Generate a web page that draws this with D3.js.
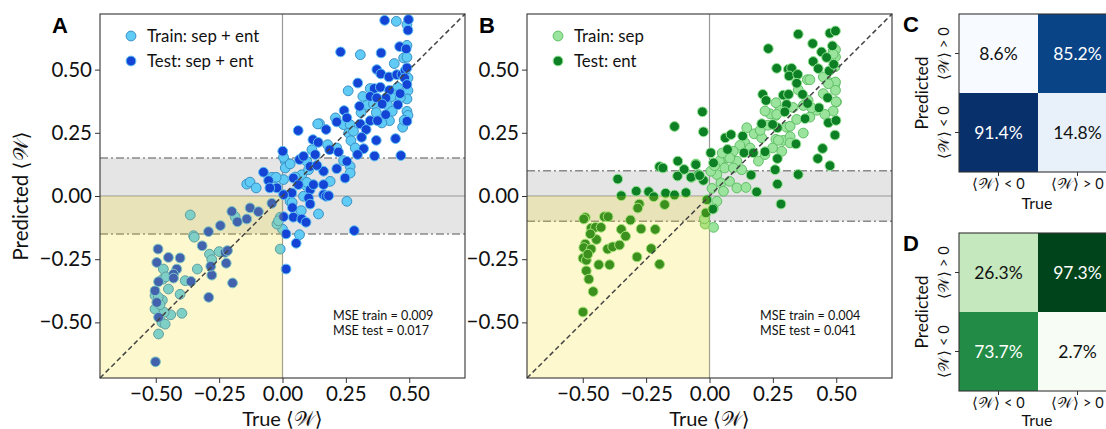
<!DOCTYPE html>
<html>
<head>
<meta charset="utf-8">
<script src="https://cdn.jsdelivr.net/npm/d3@7"></script>
<style>
  body { margin: 0; background: #fff; }
  svg { display: block; font-family: Lato, "DejaVu Sans", sans-serif; }
</style>
</head>
<body>
<svg id="chart" width="1106" height="429"></svg>
<script>
// panel A: trained and tested on sep + ent
const trainA = [
  [0.449,0.691],[0.491,0.678],[0.307,0.559],[0.491,0.596],[0.478,0.546],[0.491,0.549],[0.441,0.524],[0.495,0.467],
  [0.259,0.416],[0.346,0.425],[0.454,0.430],[0.495,0.417],[0.441,0.401],[0.428,0.392],[0.491,0.384],[0.317,0.394],
  [0.333,0.359],[0.359,0.364],[0.414,0.361],[0.491,0.335],[0.495,0.319],[0.474,0.272],[0.209,0.309],[0.241,0.282],
  [0.267,0.282],[0.433,0.335],[0.422,0.298],[0.392,0.289],[0.146,0.286],[0.261,0.249],[0.280,0.256],[0.178,0.203],
  [0.214,0.190],[0.270,0.219],[0.116,0.183],[0.287,0.190],[0.096,0.137],[0.241,0.140],[0.267,0.117],[0.011,0.137],
  [0.011,0.111],[0.076,0.084],[0.103,0.104],[0.004,0.065],[-0.029,0.071],[0.093,0.042],[0.188,0.058],[0.267,0.091],
  [0.083,-0.001],[0.030,-0.021],[0.254,-0.021],[0.074,-0.058],[0.142,-0.071],[0.0,-0.131],[0.067,-0.153],[0.038,-0.026],
  [-0.141,0.047],[-0.128,0.055],[-0.104,0.032],[-0.042,0.074],[-0.025,0.074],[0.004,0.153],[0.030,0.127],[0.139,0.285],
  [0.096,0.054],[0.050,0.075],[0.310,0.330],[0.370,0.330],[0.465,0.390],[0.480,0.300],
  [-0.364,-0.075],[-0.187,-0.082],[-0.022,-0.111],[-0.009,-0.084],[-0.016,-0.098],[-0.351,-0.157],[-0.348,-0.163],
  [-0.288,-0.230],[-0.279,-0.252],[-0.336,-0.289],[-0.384,-0.335],[-0.404,-0.389],[-0.397,-0.464],[-0.441,-0.470],
  [-0.450,-0.368],[-0.470,-0.289],[-0.472,-0.329],[-0.503,-0.394],[-0.474,-0.412],[-0.503,-0.447],[-0.467,-0.460],
  [-0.476,-0.500],[-0.463,-0.507],[-0.489,-0.546],[-0.009,-0.210],[-0.483,-0.430],[-0.490,-0.400],[-0.460,-0.320],
  [-0.250,-0.220]
];
const testA = [
  [0.403,0.695],[0.497,0.698],[0.495,0.656],[0.229,0.570],[0.389,0.566],[0.462,0.591],[0.488,0.582],[0.372,0.500],
  [0.388,0.483],[0.420,0.471],[0.451,0.480],[0.471,0.480],[0.484,0.496],[0.491,0.507],[0.482,0.467],[0.297,0.447],
  [0.362,0.425],[0.386,0.430],[0.422,0.418],[0.491,0.441],[0.464,0.405],[0.408,0.388],[0.346,0.394],[0.372,0.388],
  [0.393,0.364],[0.304,0.355],[0.455,0.361],[0.491,0.296],[0.243,0.338],[0.254,0.309],[0.214,0.293],[0.307,0.285],
  [0.346,0.298],[0.375,0.298],[0.407,0.322],[0.172,0.263],[0.062,0.259],[0.330,0.263],[0.120,0.223],[0.141,0.212],
  [0.312,0.232],[0.370,0.220],[0.446,0.227],[0.186,0.183],[0.221,0.174],[0.320,0.187],[0.296,0.164],[0.363,0.158],
  [0.467,0.160],[0.001,0.177],[0.067,0.144],[0.083,0.157],[0.129,0.164],[0.109,0.117],[0.254,0.137],[0.214,0.108],
  [0.162,0.098],[0.043,0.071],[0.136,0.121],[-0.022,0.032],[0.063,0.045],[0.109,0.025],[0.122,0.045],[0.162,0.045],
  [0.247,0.071],[0.162,0.005],[0.172,-0.001],[0.037,0.012],[0.004,0.005],[0.103,-0.008],
  [0.039,-0.046],[0.043,-0.084],[0.076,-0.091],[0.093,-0.104],[0.014,-0.150],[0.054,-0.187],[0.014,-0.289],
  [0.283,-0.137],[0.182,0.001],[0.109,-0.032],[0.004,-0.082],[-0.075,0.094],[-0.055,0.061],[-0.050,0.032],
  [-0.200,-0.061],[-0.178,-0.102],[-0.141,-0.091],[-0.128,-0.047],[-0.095,-0.062],[-0.042,-0.029],[-0.245,-0.117],
  [-0.292,-0.141],[-0.317,-0.197],[-0.226,-0.223],[-0.217,-0.216],[-0.222,-0.266],[-0.279,-0.313],[-0.283,-0.278],
  [-0.361,-0.338],[-0.197,-0.344],[-0.291,-0.401],[-0.450,-0.243],[-0.404,-0.245],[-0.417,-0.289],[-0.430,-0.309],
  [-0.430,-0.325],[-0.491,-0.210],[-0.496,-0.263],[-0.489,-0.339],[-0.503,-0.375],[-0.496,-0.421],[-0.489,-0.480],
  [-0.501,-0.656]
];

// panel B: trained on sep, tested on ent
const trainB = [
  [0.386,0.460],[0.488,0.577],[0.497,0.579],[0.497,0.550],[0.495,0.511],[0.488,0.561],[0.465,0.455],[0.495,0.442],
  [0.497,0.451],[0.497,0.418],[0.501,0.372],[0.449,0.471],[0.469,0.444],[0.449,0.405],[0.396,0.460],[0.389,0.378],
  [0.370,0.358],[0.423,0.339],[0.396,0.312],[0.499,0.373],[0.488,0.336],[0.455,0.323],[0.403,0.349],[0.278,0.339],
  [0.262,0.319],[0.304,0.272],[0.291,0.220],[0.370,0.249],[0.318,0.235],[0.262,0.369],[0.239,0.325],[0.265,0.323],
  [0.219,0.336],[0.318,0.276],[0.344,0.303],[0.176,0.246],[0.206,0.230],[0.262,0.224],[0.285,0.177],[0.318,0.210],
  [0.249,0.190],[0.140,0.210],[0.120,0.200],[0.147,0.270],[0.094,0.177],[0.068,0.151],[0.108,0.138],[0.039,0.138],
  [0.060,0.111],[0.094,0.111],[0.127,0.104],[0.029,0.085],[0.045,0.052],[0.079,0.058],[0.108,0.032],[0.144,0.034],
  [0.005,0.098],[0.055,0.019],[0.029,-0.021],[0.193,0.138],[0.219,0.164],[0.272,0.220],[0.080,0.150],[0.050,0.170],
  [0.020,0.120],[0.160,0.190],[0.200,0.260],[0.230,0.280],[0.330,0.350],[0.350,0.420],
  [-0.017,-0.111],[0.016,-0.124],[-0.020,-0.090],[0.010,0.030]
];
const testB = [
  [0.350,0.640],[0.475,0.644],[0.497,0.653],[0.232,0.583],[0.407,0.603],[0.442,0.570],[0.485,0.594],[0.265,0.505],
  [0.311,0.501],[0.324,0.505],[0.314,0.475],[0.348,0.481],[0.409,0.532],[0.429,0.504],[0.462,0.548],[0.472,0.495],
  [0.490,0.521],[0.344,0.446],[0.367,0.402],[0.210,0.402],[0.223,0.378],[0.291,0.399],[0.312,0.402],[0.304,0.362],
  [0.297,0.333],[0.387,0.366],[0.432,0.349],[0.466,0.389],[0.469,0.290],[0.499,0.299],[0.495,0.241],[0.206,0.286],
  [0.268,0.270],[0.249,0.283],[0.377,0.306],[0.341,0.206],[0.446,0.188],[0.427,0.148],[0.475,0.120],[-0.028,0.333],
  [-0.024,0.254],[0.062,0.230],[0.085,0.243],[0.131,0.237],[0.071,0.184],[0.136,0.171],[0.173,0.171],[0.219,0.175],
  [0.268,0.148],[0.259,0.104],[0.268,0.047],[0.350,0.085],[0.164,0.083],[0.186,0.016],[0.282,-0.032],[0.016,-0.048],
  [0.005,0.171],[0.016,0.131],[-0.054,0.127],[-0.070,0.074],[-0.043,0.085],[-0.024,0.062],[-0.138,0.275],
  [-0.197,0.116],[-0.184,0.111],[-0.125,0.138],[-0.100,0.105],[-0.054,0.124],[-0.126,0.079],[-0.073,0.074],
  [-0.039,0.081],[-0.362,0.067],[-0.348,0.001],[-0.289,0.019],[-0.240,0.017],[-0.220,-0.003],[-0.173,0.011],
  [-0.138,0.004],[-0.093,0.013],[-0.177,-0.034],[-0.277,-0.032],[-0.283,-0.048],[-0.014,-0.067],[-0.490,-0.085],
  [-0.496,-0.091],[-0.415,-0.082],[-0.400,-0.082],[-0.312,-0.095],[-0.467,-0.127],[-0.450,-0.124],[-0.428,-0.124],
  [-0.348,-0.132],[-0.270,-0.130],[-0.214,-0.132],[-0.331,-0.159],[-0.446,-0.172],[-0.490,-0.190],[-0.496,-0.204],
  [-0.467,-0.210],[-0.402,-0.210],[-0.382,-0.201],[-0.355,-0.194],[-0.230,-0.208],[-0.499,-0.246],[-0.486,-0.254],
  [-0.286,-0.241],[-0.437,-0.272],[-0.394,-0.272],[-0.197,-0.270],[-0.486,-0.296],[-0.476,-0.329],[-0.459,-0.378],
  [-0.499,-0.459],[-0.010,-0.015],[0.013,-0.052],[-0.480,-0.230],[-0.470,-0.150]
];

const ticks = [-0.5, -0.25, 0, 0.25, 0.5];
const mseA = ["MSE train = 0.009", "MSE test = 0.017"];
const mseB = ["MSE train = 0.004", "MSE test = 0.041"];

// confusion matrices, rows: predicted > 0 / < 0, cols: true < 0 / > 0
const trueCats = ["neg", "pos"];
const predCats = ["pos", "neg"];
const confC = [[8.6, 85.2], [91.4, 14.8]];
const confD = [[26.3, 97.3], [73.7, 2.7]];

const W = "\u27E8\uD835\uDCB2\u27E9";
const svg = d3.select("#chart");

function scatter(opt) {
  const x = d3.scaleLinear().domain([-0.72, 0.72]).range([opt.left, opt.left + 365]);
  const y = d3.scaleLinear().domain([-0.72, 0.72]).range([378, 14]);
  const g = svg.append("g");

  g.append("rect")
    .attr("x", x(-0.72)).attr("width", x(0.72) - x(-0.72))
    .attr("y", y(opt.band)).attr("height", y(-opt.band) - y(opt.band))
    .attr("fill", "#e5e5e5");

  g.append("line").attr("x1", x(0)).attr("x2", x(0)).attr("y1", y(0.72)).attr("y2", y(-0.72))
    .attr("stroke", "#9a9a9a").attr("stroke-width", 1.2);
  g.append("line").attr("x1", x(-0.72)).attr("x2", x(0.72)).attr("y1", y(0)).attr("y2", y(0))
    .attr("stroke", "#9a9a9a").attr("stroke-width", 1.2);

  [opt.band, -opt.band].forEach(v => {
    g.append("line").attr("x1", x(-0.72)).attr("x2", x(0.72)).attr("y1", y(v)).attr("y2", y(v))
      .attr("stroke", "#8a8a8a").attr("stroke-width", 1.5).attr("stroke-dasharray", "8,3,2,3");
  });

  g.selectAll(".tr").data(opt.train).enter().append("circle")
    .attr("cx", d => x(d[0])).attr("cy", d => y(d[1])).attr("r", 4.9)
    .attr("fill", opt.trainFill).attr("stroke", opt.trainEdge).attr("stroke-width", 1);
  g.selectAll(".te").data(opt.test).enter().append("circle")
    .attr("cx", d => x(d[0])).attr("cy", d => y(d[1])).attr("r", 4.9)
    .attr("fill", opt.testFill).attr("stroke", opt.testEdge).attr("stroke-width", 1);

  // yellow quadrant sits over the points
  g.append("rect")
    .attr("x", x(-0.72)).attr("width", x(0) - x(-0.72))
    .attr("y", y(0)).attr("height", y(-0.72) - y(0))
    .attr("fill", "rgb(250,220,10)").attr("fill-opacity", 0.2);

  g.append("line").attr("x1", x(-0.72)).attr("x2", x(0.72)).attr("y1", y(-0.72)).attr("y2", y(0.72))
    .attr("stroke", "#444").attr("stroke-width", 1.5).attr("stroke-dasharray", "5,3");

  const xa = g.append("g").attr("transform", "translate(0,378)")
    .call(d3.axisBottom(x).tickValues(ticks).tickFormat(d3.format(".2f")).tickSize(5).tickPadding(3));
  const ya = g.append("g").attr("transform", `translate(${opt.left},0)`)
    .call(d3.axisLeft(y).tickValues(ticks).tickFormat(d3.format(".2f")).tickSize(5).tickPadding(3));
  [xa, ya].forEach(a => {
    a.select(".domain").remove();
    a.selectAll("line").attr("stroke", "#333");
    a.selectAll("text").attr("font-size", 20.5).attr("font-family", "Lato, sans-serif").attr("fill", "#111");
  });

  g.append("rect").attr("x", x(-0.72)).attr("y", y(0.72))
    .attr("width", x(0.72) - x(-0.72)).attr("height", y(-0.72) - y(0.72))
    .attr("fill", "none").attr("stroke", "#333").attr("stroke-width", 1.1);

  g.append("text").attr("x", x(0)).attr("y", 426).attr("text-anchor", "middle")
    .attr("font-size", 20).attr("fill", "#111").text("True " + W);
  if (opt.ylabel) {
    g.append("text").attr("transform", `translate(28,${y(0)}) rotate(-90)`).attr("text-anchor", "middle")
      .attr("font-size", 20.5).attr("fill", "#111").text("Predicted " + W);
  }

  g.append("text").attr("x", opt.left - 48).attr("y", 33)
    .attr("font-family", "Liberation Sans, Arial, sans-serif").attr("font-weight", "bold")
    .attr("font-size", 22).text(opt.letter);

  opt.legend.forEach((lab, i) => {
    const cy = 36 + i * 25;
    g.append("circle").attr("cx", opt.left + 31).attr("cy", cy).attr("r", 4.9)
      .attr("fill", i ? opt.testFill : opt.trainFill).attr("stroke", i ? opt.testEdge : opt.trainEdge);
    g.append("text").attr("x", opt.left + 47).attr("y", cy + 5.5).attr("font-size", 16.8)
      .attr("fill", "#111").text(lab);
  });

  // two-line stats note
  opt.mse.forEach((t, i) => {
    g.append("text").attr("x", opt.left + 233).attr("y", 320 + i * 14.5)
      .attr("font-size", 12.6).attr("fill", "#111").text(t);
  });
}

scatter({
  left: 100, band: 0.15, train: trainA, test: testA, letter: "A", ylabel: true,
  trainFill: "#60ccf6", trainEdge: "#3a90c4", testFill: "#1444d6", testEdge: "#5cc2f2",
  legend: ["Train: sep + ent", "Test: sep + ent"], mse: mseA
});
scatter({
  left: 527, band: 0.1, train: trainB, test: testB, letter: "B", ylabel: false,
  trainFill: "#9ae49d", trainEdge: "#5fbf65", testFill: "#0d7f24", testEdge: "#92e592",
  legend: ["Train: sep", "Test: ent"], mse: mseB
});

function heat(opt) {
  const x = d3.scaleBand().domain(trueCats).range([959, 1117]);
  const y = d3.scaleBand().domain(predCats).range([opt.top, opt.top + 158]);
  const vals = opt.data.flat();
  const c = d3.scaleLinear().domain(d3.extent(vals)).range([0, 1]);
  const g = svg.append("g");
  const cells = [];
  predCats.forEach((p, i) => trueCats.forEach((t, j) => cells.push({ p, t, v: opt.data[i][j] })));

  g.selectAll("rect.cell").data(cells).enter().append("rect")
    .attr("x", d => x(d.t)).attr("y", d => y(d.p))
    .attr("width", x.bandwidth()).attr("height", y.bandwidth())
    .attr("fill", d => opt.cmap(c(d.v)));
  g.selectAll("text.val").data(cells).enter().append("text")
    .attr("x", d => x(d.t) + x.bandwidth() / 2).attr("y", d => y(d.p) + y.bandwidth() / 2 + 6)
    .attr("text-anchor", "middle").attr("font-size", 17.5)
    .attr("fill", d => c(d.v) > 0.5 ? "#fff" : "#111")
    .text(d => d.v + "%");
  g.append("rect").attr("x", 959).attr("y", opt.top).attr("width", 158).attr("height", 158)
    .attr("fill", "none").attr("stroke", "#333").attr("stroke-width", 1.1);

  const lab = { neg: W + " < 0", pos: W + " > 0" };
  const xa = g.append("g").attr("transform", `translate(0,${opt.top + 158})`)
    .call(d3.axisBottom(x).tickFormat(d => lab[d]).tickSize(4).tickPadding(3));
  const ya = g.append("g").attr("transform", "translate(959,0)")
    .call(d3.axisLeft(y).tickFormat(d => lab[d]).tickSize(4).tickPadding(3));
  [xa, ya].forEach(a => {
    a.select(".domain").remove();
    a.selectAll("line").attr("stroke", "#333");
    a.selectAll("text").attr("font-size", 14.5).attr("font-family", "Lato, sans-serif").attr("fill", "#111");
  });
  ya.selectAll("text").attr("text-anchor", "middle").attr("transform", "rotate(-90)")
    .attr("x", 0).attr("dy", 0)
    .each(function (d) {
      d3.select(this).attr("x", -(y(d) + y.bandwidth() / 2)).attr("y", -10);
    });
  ya.selectAll(".tick").attr("transform", null);
  ya.selectAll(".tick line").attr("y1", d => y(d) + y.bandwidth() / 2).attr("y2", d => y(d) + y.bandwidth() / 2);

  g.append("text").attr("x", 1037).attr("y", Math.min(opt.top + 195, 426)).attr("text-anchor", "middle")
    .attr("font-size", 16).attr("fill", "#111").text("True");
  g.append("text").attr("transform", `translate(928,${opt.top + 79}) rotate(-90)`)
    .attr("text-anchor", "middle").attr("font-size", 17.5).attr("fill", "#111").text("Predicted");
  g.append("text").attr("x", 903).attr("y", opt.top + 18)
    .attr("font-family", "Liberation Sans, Arial, sans-serif").attr("font-weight", "bold")
    .attr("font-size", 22).text(opt.letter);
}

heat({ top: 14, data: confC, cmap: d3.interpolateBlues, letter: "C" });
heat({ top: 233, data: confD, cmap: d3.interpolateGreens, letter: "D" });
</script>
</body>
</html>
